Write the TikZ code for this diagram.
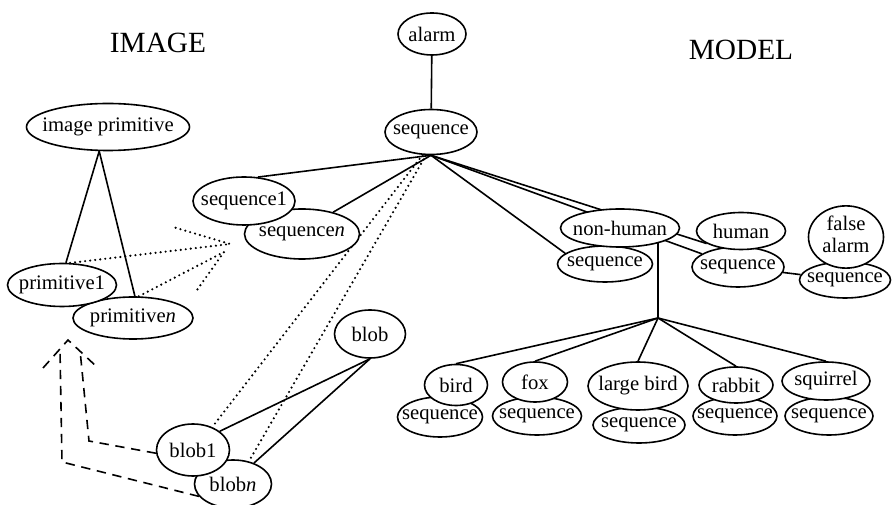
\documentclass[tikz,border=0pt]{standalone}
\usepackage{fontspec}
\setmainfont{Liberation Serif}
\usetikzlibrary{shapes,backgrounds}
\tikzset{sz/.style 2 args={minimum width=#1*0.75pt,minimum height=#2*0.75pt}}
% zero-width label, so the ellipse size is set by sz alone
\newcommand{\zw}[1]{\makebox[0pt]{#1}}

\begin{document}
\begin{tikzpicture}[x=0.75pt,y=-0.75pt]
            \tikzstyle{ov}=[ellipse,draw,fill=white,inner sep=0pt,line width=1.2pt,font=\fontsize{15.5}{16.5}\selectfont]
            \tikzstyle{ln}=[line width=1.2pt]
            \tikzstyle{dt}=[line width=1.8pt,line cap=round,dash pattern=on 0pt off 3.8pt]
            \tikzstyle{dsh}=[line width=1.2pt,dash pattern=on 7pt off 5pt]
            \tikzstyle{ttl}=[font=\fontsize{22}{24}\selectfont]

            \useasboundingbox (0,0) rectangle (892,505);

            % titles
            \node [ttl] (timg) at (158,43) {IMAGE};
            \node [ttl] (tmod) at (741,50) {MODEL};

            % image side
            \node [ov,sz={163}{47}] (imgprim) at (108,127) {\zw{image primitive}};
            \node [ov,sz={120}{42}] (primn) at (133,318) {\zw{primitive\textit{n}}};
            \node [ov,sz={109}{43}] (prim1) at (62,285) {\zw{primitive1}};
            \node [ov,sz={71}{48}] (blob) at (370,334) {\zw{blob}};
            \node [ov,sz={77}{48}] (blobn) at (233,484) {\zw{blob\textit{n}}};
            \node [ov,sz={73}{52}] (blob1) at (193,450) {\zw{blob1}};

            % model side
            \node [ov,sz={68}{42}] (alarm) at (432,34) {\zw{alarm}};
            \node [ov,sz={92}{45}] (seq) at (431,132) {\zw{sequence}};
            \node [ov,sz={115}{50}] (seqn) at (302,234) {\zw{\raisebox{-3pt}{sequence\textit{n}}}};
            \node [ov,sz={102}{48}] (seq1) at (244,201) {\zw{sequence1}};
            \node [ov,sz={95}{36}] (nhseq) at (605,264) {\zw{sequence}};
            \node [ov,sz={119}{38}] (nh) at (620,228) {\zw{non-human}};
            \node [ov,sz={92}{40}] (hseq) at (738,267) {\zw{sequence}};
            \node [ov,sz={89}{37}] (human) at (741,231) {\zw{human}};
            \node [ov,sz={91}{36}] (faseq) at (845,280) {\zw{sequence}};
            \node [ov,sz={75}{60}] (fa) at (846,237) {\zw{\begin{tabular}{@{}c@{}}false\\alarm\end{tabular}}};

            \node [ov,sz={85}{40}] (birdseq) at (440,417) {\zw{sequence}};
            \node [ov,sz={63}{41}] (bird) at (456,385) {\zw{bird}};
            \node [ov,sz={89}{38}] (foxseq) at (537,416) {\zw{sequence}};
            \node [ov,sz={65}{40}] (fox) at (535,382) {\zw{fox}};
            \node [ov,sz={92}{36}] (lbseq) at (639,425) {\zw{sequence}};
            \node [ov,sz={100}{48}] (lbird) at (638,386) {\zw{large bird}};
            \node [ov,sz={84}{38}] (rabseq) at (735,416) {\zw{sequence}};
            \node [ov,sz={74}{36}] (rabbit) at (736,385) {\zw{rabbit}};
            \node [ov,sz={88}{38}] (sqseq) at (829,416) {\zw{sequence}};
            \node [ov,sz={88}{38}] (squirrel) at (826,381) {\zw{squirrel}};

            \coordinate (br) at (658,318);
            \coordinate (pa) at (230,244);
            \coordinate (pb) at (224,252);
            \coordinate (pc) at (173,227);
            \coordinate (pd) at (197,290);
            \coordinate (ao1) at (62,462);
            \coordinate (ao2) at (60,350);
            \coordinate (ai1) at (89,441);
            \coordinate (ai2) at (80,350);
            \coordinate (hl) at (43,368);
            \coordinate (ht) at (68,340);
            \coordinate (hr) at (97,367);

            \begin{pgfonlayer}{background}
              % image links
              \draw [ln] (imgprim.250) -- (prim1.80);
              \draw [ln] (imgprim.250) -- (primn.85);
              \draw [ln] (blob.south) -- (blob1.35);
              \draw [ln] (blob.south) -- (blobn.45);
              \draw [dt] (prim1.70) -- (pa) -- (pc);
              \draw [dt] (primn.75) -- (pb) -- (pd);
              \draw [dt] (seq.250) -- (blob1.50);
              \draw [dt] (seq.258) -- (blobn.55);
              \draw [dsh] (blobn.200) -- (ao1) -- (ao2);
              \draw [dsh] (blob1.185) -- (ai1) -- (ai2);
              \draw [dsh] (hl) -- (ht) -- (hr);

              % model links
              \draw [ln] (alarm) -- (seq);
              \draw [ln] (seq.south) -- (seq1.60);
              \draw [ln] (seq.south) -- (seqn.35);
              \draw [ln] (seq.south) -- (nhseq.165);
              \draw [ln] (seq.south) -- (human.200);
              \draw [ln] (seq.south) -- (hseq.160);
              \draw [ln] (hseq) -- (faseq);
              \draw [ln] (br) -- (br |- nh.center);
              \foreach \k in {bird,fox,lbird,rabbit,squirrel}
                \draw [ln] (br) -- (\k.north);
            \end{pgfonlayer}
        \end{tikzpicture}
\end{document}
